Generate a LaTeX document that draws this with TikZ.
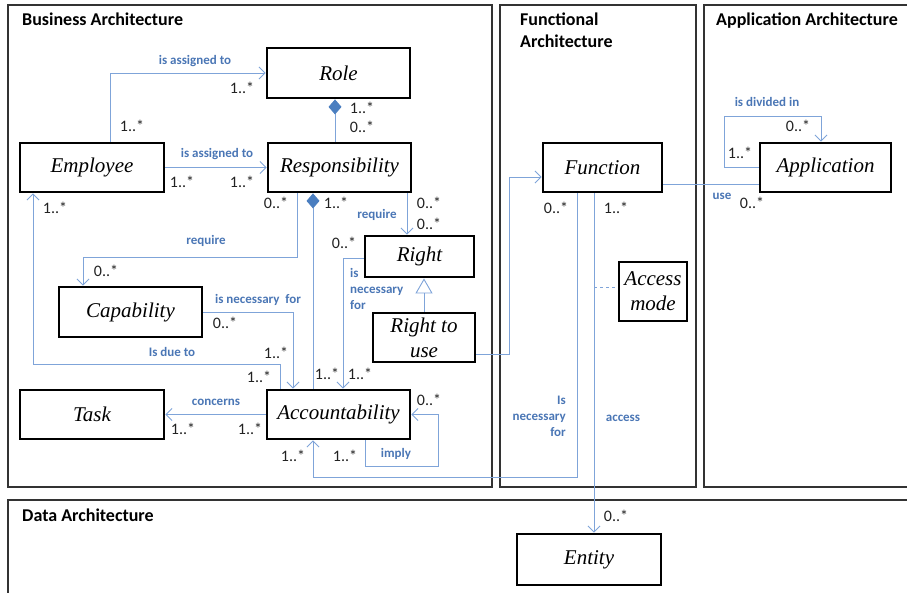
\documentclass[tikz,border=0pt]{standalone}
\usepackage{fontspec}
\setmainfont{Liberation Serif}
\newfontfamily\lab{Carlito}
\usetikzlibrary{arrows.meta}
\definecolor{lineblue}{HTML}{7FA4D9}
\definecolor{textblue}{HTML}{4A76B5}
\definecolor{diablue}{HTML}{4A7EC0}
\definecolor{multc}{HTML}{222222}
\tikzset{
  box/.style={draw=black, line width=2.8pt, fill=white, inner sep=0pt, align=center,
     font=\fontsize{21}{25}\selectfont\itshape},
  panel/.style={draw=black!80, line width=1.3pt},
  ptitle/.style={anchor=north west, inner sep=0pt, align=left, font=\lab\bfseries\fontsize{18}{22}\selectfont},
  conn/.style={draw=lineblue, line width=0.9pt},
  open/.style={-{Straight Barb[length=6pt,width=12pt,line width=0.9pt]}},
  diaend/.style={-{Diamond[length=15pt,width=13pt,fill=diablue,color=diablue]}},
  diastart/.style={{Diamond[length=15pt,width=13pt,fill=diablue,color=diablue]}-},
  gen/.style={-{Triangle[open,length=15pt,width=17pt,fill=white,line width=0.9pt]}},
  lbl/.style={text=textblue, inner sep=0pt, font=\lab\bfseries\fontsize{13}{16}\selectfont},
  mult/.style={text=multc, inner sep=0pt, font=\lab\fontsize{16}{18}\selectfont},
}
\begin{document}
\begin{tikzpicture}[x=1pt,y=-1pt]
\useasboundingbox (0,0) rectangle (907,592);
\begin{scope}
\clip (0,0) rectangle (907,592);
% panels
\draw[panel] (8,5) rectangle (492,487);
\draw[panel] (500,5) rectangle (696,487);
\draw[panel] (704,5) rectangle (915,487);
\draw[panel] (8,500) rectangle (915,600);
\end{scope}
\node[ptitle] (tb) at (22,13) {Business Architecture};
\node[ptitle] (tf) at (520,13) {Functional\\Architecture};
\node[ptitle] (ta) at (716,13) {Application Architecture};
\node[ptitle] (td) at (22,509) {Data Architecture};

% nodes
\node[box, minimum width=143pt, minimum height=50pt] (role) at (338.5,73) {Role};
\node[box, minimum width=144pt, minimum height=49pt] (emp) at (92,167.5) {Employee};
\node[box, minimum width=143pt, minimum height=49pt] (resp) at (339.5,167.5) {Responsibility};
\node[box, minimum width=109pt, minimum height=41pt] (right) at (419.5,256.5) {Right};
\node[box, minimum width=102pt, minimum height=49pt] (rtu) at (424,337.5) {Right to\\use};
\node[box, minimum width=143pt, minimum height=50pt] (cap) at (130.5,312) {Capability};
\node[box, minimum width=144pt, minimum height=49pt] (task) at (92,414.5) {Task};
\node[box, minimum width=143pt, minimum height=49pt] (acc) at (338.5,414.5) {Accountability};
\node[box, minimum width=119pt, minimum height=49pt] (fun) at (602.5,167.5) {Function};
\node[box, minimum width=131pt, minimum height=49pt] (app) at (825.5,167.5) {Application};
\node[box, minimum width=68pt, minimum height=59pt] (am) at (653,291.5) {Access\\mode};
\node[box, minimum width=144pt, minimum height=51pt] (ent) at (589,559.5) {Entity};

% helper coordinates
\coordinate (c110) at (110,0);
\coordinate (c335) at (335,0);
\coordinate (a4) at (297,257);
\coordinate (b4) at (83,0);
\coordinate (c313) at (313,0);
\coordinate (c407) at (407,0);
\coordinate (r7) at (343,258);
\coordinate (c293) at (293,0);
\coordinate (a10) at (280,364);
\coordinate (b10) at (33,0);
\coordinate (l1) at (365,466);
\coordinate (l2) at (438,466);
\coordinate (a13) at (577,477);
\coordinate (a14) at (509,354);
\coordinate (b14) at (509,177);
\coordinate (a15) at (594,0);
\coordinate (a16) at (594,287);
\coordinate (a17) at (0,184);
\coordinate (s1) at (724,116);
\coordinate (s2) at (821,116);

% connectors
\draw[conn,open] (emp.north -| c110) |- (role.west);
\draw[conn,open] (emp.east) -- (resp.west);
\draw[conn,diaend] (resp.north -| c335) -- (role.south -| c335);
\draw[conn,open] (resp.south -| a4) -- (a4) -| (cap.north -| b4);
\draw[conn,diastart] (resp.south -| c313) -- (acc.north -| c313);
\draw[conn,open] (resp.south -| c407) -- (right.north -| c407);
\draw[conn,open] (right.west |- r7) -- (r7) -- (acc.north -| r7);
\draw[conn,gen] (rtu.north) -- (right.south -| rtu.north);
\draw[conn,open] (cap.east) -| (acc.north -| c293);
\draw[conn,open] (acc.north -| a10) -- (a10) -| (emp.south -| b10);
\draw[conn,open] (acc.west) -- (task.east);
\draw[conn,open] (acc.south -| l1) -- (l1) -- (l2) |- (acc.east);
\draw[conn,open] (fun.south -| a13) -- (a13) -| (acc.south -| c313);
\draw[conn,open] (rtu.east |- a14) -- (a14) -- (b14) -- (fun.west |- b14);
\draw[conn,open] (fun.south -| a15) -- (ent.north -| a15);
\draw[conn,dashed] (a16) -- (am.west |- a16);
\draw[conn] (fun.east |- a17) -- (app.west |- a17);
\draw[conn,open] (app.west) -| (s1) -- (s2) -- (app.north -| s2);

% labels
\node[lbl] (l_ea) at (195,61) {is assigned to};
\node[lbl] (l_er) at (217,154) {is assigned to};
\node[lbl] (l_rc) at (206,241) {require};
\node[lbl] (l_rr) at (377,215) {require};
\node[lbl] (l_ca) at (258,300) {is necessary\ \ for};
\node[lbl, anchor=north west, align=left, font=\lab\bfseries\fontsize{13}{16}\selectfont] (l_ra) at (350,268) {is\\necessary\\for};
\node[lbl] (l_ae) at (172,352) {Is due to};
\node[lbl] (l_at) at (216,402) {concerns};
\node[lbl] (l_im) at (396,454) {imply};
\node[lbl, anchor=north east, align=right, font=\lab\bfseries\fontsize{13}{16}\selectfont] (l_fa) at (566,396) {Is\\necessary\\for};
\node[lbl] (l_ac) at (623,418) {access};
\node[lbl] (l_us) at (722,196) {use};
\node[lbl] (l_dv) at (767,102) {is divided in};

% multiplicities
\node[mult] (m1) at (242,88) {1..*};
\node[mult] (m2) at (132,126) {1..*};
\node[mult] (m3) at (362,108) {1..*};
\node[mult] (m4) at (362,127) {0..*};
\node[mult] (m5) at (182,182) {1..*};
\node[mult] (m6) at (242,182) {1..*};
\node[mult] (m7) at (55,208) {1..*};
\node[mult] (m8) at (276,203) {0..*};
\node[mult] (m9) at (336,203) {1..*};
\node[mult] (m10) at (429,203) {0..*};
\node[mult] (m11) at (429,224) {0..*};
\node[mult] (m12) at (344,243) {0..*};
\node[mult] (m13) at (106,271) {0..*};
\node[mult] (m14) at (225,323) {0..*};
\node[mult] (m15) at (276,353) {1..*};
\node[mult] (m16) at (259,377) {1..*};
\node[mult] (m17) at (327,374) {1..*};
\node[mult] (m18) at (360,374) {1..*};
\node[mult] (m19) at (429,400) {0..*};
\node[mult] (m20) at (183,429) {1..*};
\node[mult] (m21) at (250,429) {1..*};
\node[mult] (m22) at (293,456) {1..*};
\node[mult] (m23) at (345,456) {1..*};
\node[mult] (m24) at (798,126) {0..*};
\node[mult] (m25) at (740,153) {1..*};
\node[mult] (m26) at (556,208) {0..*};
\node[mult] (m27) at (616,208) {1..*};
\node[mult] (m28) at (752,203) {0..*};
\node[mult] (m29) at (616,516) {0..*};
\end{tikzpicture}
\end{document}
